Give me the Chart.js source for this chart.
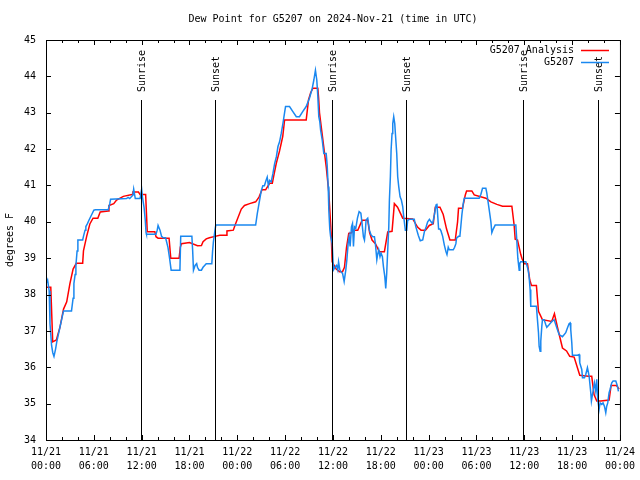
<!DOCTYPE html>
<html>
<head>
<meta charset="utf-8">
<script src="https://cdn.jsdelivr.net/npm/chart.js@4"></script>
<style>
  html, body { margin: 0; padding: 0; background: #fff; }
  #wrap { width: 640px; height: 480px; }
</style>
</head>
<body>
<div id="wrap"><canvas id="dew" width="640" height="480"></canvas></div>
<script>
// hours since 2024-11-21 00:00 UTC
const analysisHours = [0, 0.6, 0.84, 1.3, 1.75, 2.2, 2.6, 3.0, 3.4, 3.8, 4.6, 4.7, 5.1, 5.5, 5.9, 6.5, 6.8, 7.8, 7.9, 8.5, 8.85, 9.7, 10.8, 10.9, 11.6, 11.8, 12.5, 12.7, 13.65, 13.8, 14.06, 15.44, 15.65, 16.7, 16.85, 17.0, 18.0, 19.0, 19.5, 19.7, 20.1, 20.5, 21.2, 21.8, 22.6, 22.7, 23.5, 23.7, 24.5, 24.9, 25.55, 26.3, 26.72, 27.1, 27.55, 28.05, 28.39, 28.6, 28.89, 29.3, 29.51, 29.7, 29.93, 32.64, 32.93, 33.2, 33.47, 34.1, 34.2, 34.31, 34.65, 35.15, 35.48, 35.77, 35.9, 36.4, 36.82, 37.2, 37.44, 37.7, 37.98, 38.3, 38.57, 39.11, 39.65, 40.36, 40.6, 40.9, 41.32, 41.82, 42.45, 42.87, 43.41, 43.55, 43.7, 44.1, 44.75, 46.0, 46.63, 47.05, 47.6, 48.08, 48.58, 48.83, 49.42, 49.83, 50.25, 50.67, 51.34, 51.63, 51.75, 52.25, 52.59, 52.76, 53.42, 53.72, 55.18, 55.81, 56.56, 57.27, 58.44, 58.73, 58.86, 59.15, 59.56, 59.7, 59.98, 60.4, 60.69, 60.9, 61.52, 61.78, 62.27, 63.44, 63.78, 64.16, 64.79, 65.3, 65.7, 66.25, 66.96, 68.04, 68.46, 68.75, 69.09, 69.6, 70.64, 70.89, 71.56, 71.9];
const analysisValues = [38.2, 38.2, 36.7, 36.75, 37.1, 37.6, 37.8, 38.3, 38.7, 38.86, 38.86, 39.2, 39.6, 39.94, 40.1, 40.1, 40.27, 40.3, 40.45, 40.5, 40.6, 40.7, 40.75, 40.82, 40.82, 40.75, 40.75, 39.73, 39.73, 39.59, 39.55, 39.55, 39.0, 39.0, 39.3, 39.4, 39.43, 39.34, 39.35, 39.45, 39.53, 39.56, 39.6, 39.63, 39.63, 39.75, 39.77, 39.9, 40.35, 40.45, 40.5, 40.55, 40.68, 40.88, 40.88, 41.06, 41.06, 41.3, 41.61, 41.95, 42.16, 42.35, 42.8, 42.8, 43.35, 43.55, 43.67, 43.67, 43.4, 43.0, 42.4, 41.52, 40.8, 39.7, 38.9, 38.7, 38.63, 38.63, 38.75, 39.3, 39.68, 39.7, 39.77, 39.77, 40.04, 40.04, 39.7, 39.5, 39.4, 39.18, 39.18, 39.72, 39.74, 40.1, 40.5, 40.4, 40.1, 40.08, 39.85, 39.77, 39.77, 39.9, 39.95, 40.4, 40.4, 40.2, 39.8, 39.5, 39.5, 40.0, 40.37, 40.37, 40.73, 40.85, 40.85, 40.74, 40.65, 40.55, 40.48, 40.43, 40.43, 39.9, 39.52, 39.5, 39.1, 39.0, 38.85, 38.85, 38.4, 38.25, 38.25, 37.54, 37.31, 37.26, 37.47, 37.1, 36.53, 36.45, 36.3, 36.28, 35.78, 35.75, 35.75, 35.25, 35.07, 35.07, 35.1, 35.5, 35.5, 35.4];

const obsHours = [0, 0.2, 0.4, 0.5, 0.7, 0.85, 1.0, 1.2, 1.35, 1.55, 1.75, 2.0, 2.2, 3.2, 3.4, 3.5, 3.65, 3.75, 3.9, 4.0, 4.6, 4.7, 4.9, 5.0, 5.2, 5.4, 5.6, 5.8, 6.0, 6.2, 7.8, 8.0, 8.1, 10.1, 10.3, 10.5, 10.9, 11.0, 11.2, 11.8, 12.0, 12.1, 12.3, 12.45, 12.55, 12.6, 13.8, 13.95, 14.06, 14.3, 14.5, 14.7, 15.0, 15.3, 15.5, 15.7, 16.8, 16.9, 18.3, 18.4, 18.5, 18.7, 18.9, 19.0, 19.2, 19.5, 19.7, 19.9, 20.1, 20.8, 20.9, 21.0, 21.2, 21.3, 26.3, 26.5, 26.72, 27.0, 27.2, 27.4, 27.6, 27.75, 27.9, 28.05, 28.25, 28.47, 28.68, 28.9, 29.1, 29.3, 29.51, 29.72, 29.93, 30.05, 30.55, 30.97, 31.4, 31.8, 32.2, 32.64, 33.05, 33.4, 33.6, 33.8, 33.97, 34.1, 34.22, 34.35, 34.45, 34.65, 34.85, 35.15, 35.27, 35.4, 35.48, 35.6, 35.7, 35.9, 36.06, 36.3, 36.45, 36.6, 36.7, 36.86, 37.0, 37.2, 37.4, 37.61, 37.74, 37.9, 38.03, 38.15, 38.32, 38.45, 38.57, 38.7, 38.86, 39.07, 39.28, 39.5, 39.65, 39.82, 39.95, 40.07, 40.15, 40.36, 40.57, 40.78, 41.0, 41.2, 41.32, 41.5, 41.6, 41.74, 41.9, 42.03, 42.2, 42.33, 42.5, 42.62, 42.74, 42.87, 43.0, 43.08, 43.2, 43.29, 43.41, 43.5, 43.62, 43.75, 43.83, 44.0, 44.12, 44.25, 44.42, 44.58, 44.75, 44.87, 45.08, 45.25, 45.37, 45.58, 46.2, 46.4, 46.7, 46.95, 47.26, 47.47, 47.68, 47.88, 48.1, 48.3, 48.5, 48.72, 48.93, 49.04, 49.13, 49.25, 49.42, 49.55, 49.76, 49.97, 50.17, 50.3, 50.46, 50.59, 51.09, 51.26, 51.42, 51.5, 51.75, 51.92, 52.05, 52.17, 52.34, 52.47, 54.34, 54.55, 54.76, 55.18, 55.3, 55.39, 55.6, 55.81, 55.93, 56.1, 56.35, 58.94, 59.07, 59.19, 59.36, 59.44, 59.56, 60.19, 60.31, 60.48, 60.6, 60.73, 60.81, 61.52, 61.65, 61.78, 61.86, 61.99, 62.07, 62.2, 62.28, 62.49, 62.7, 62.82, 63.11, 63.45, 63.74, 63.95, 64.16, 64.37, 64.79, 65.2, 65.41, 65.62, 65.75, 65.83, 65.96, 66.04, 66.67, 66.88, 66.96, 67.21, 67.3, 67.55, 67.71, 67.92, 68.05, 68.13, 68.34, 68.42, 68.55, 68.67, 68.8, 68.96, 69.09, 69.21, 69.38, 69.51, 69.72, 69.88, 70.05, 70.22, 70.34, 70.47, 70.64, 70.76, 70.97, 71.14, 71.48, 71.69, 71.81];
const obsValues = [38.3, 38.4, 38.1, 37.2, 36.6, 36.4, 36.3, 36.5, 36.7, 36.9, 37.1, 37.35, 37.55, 37.55, 37.9, 38.3, 38.55, 38.8, 39.2, 39.5, 39.5, 39.6, 39.77, 39.87, 39.95, 40.05, 40.14, 40.23, 40.32, 40.33, 40.33, 40.5, 40.62, 40.64, 40.67, 40.64, 40.73, 40.9, 40.64, 40.64, 40.9, 40.68, 40.4, 40.05, 39.7, 39.66, 39.66, 39.77, 39.9, 39.77, 39.6, 39.56, 39.56, 39.3, 39.0, 38.67, 38.67, 39.6, 39.6, 39.2, 38.67, 38.8, 38.85, 38.75, 38.67, 38.67, 38.75, 38.8, 38.85, 38.85, 39.2, 39.45, 39.77, 39.91, 39.91, 40.22, 40.5, 40.85, 40.99, 40.99, 41.14, 41.23, 40.99, 41.14, 41.1, 41.33, 41.6, 41.79, 42.07, 42.2, 42.43, 42.7, 43.0, 43.17, 43.17, 43.03, 42.89, 42.89, 43.03, 43.17, 43.4, 43.67, 43.9, 44.17, 43.9, 43.45, 42.89, 42.75, 42.52, 42.25, 41.88, 41.88, 41.56, 40.97, 40.32, 39.8, 39.6, 39.4, 38.68, 38.77, 38.8, 38.68, 38.9, 38.68, 38.63, 38.58, 38.36, 38.68, 38.95, 39.4, 39.59, 39.32, 39.86, 39.95, 39.32, 39.86, 39.82, 40.1, 40.28, 40.24, 39.95, 39.59, 39.5, 39.77, 40.05, 40.1, 39.77, 39.64, 39.59, 39.59, 39.4, 38.96, 39.1, 39.23, 39.04, 39.14, 39.04, 38.77, 38.5, 38.17, 38.58, 39.23, 39.86, 40.6, 41.24, 41.97, 42.43, 42.7, 42.89, 42.7, 42.43, 41.88, 41.24, 40.97, 40.69, 40.6, 40.42, 40.15, 39.77, 39.77, 40.04, 40.07, 40.07, 39.86, 39.63, 39.48, 39.5, 39.73, 39.86, 40.0, 40.07, 40.0, 39.95, 40.19, 40.46, 40.5, 40.2, 39.8, 39.8, 39.75, 39.6, 39.36, 39.18, 39.1, 39.3, 39.23, 39.23, 39.3, 39.4, 39.55, 39.6, 39.6, 39.9, 40.19, 40.5, 40.65, 40.65, 40.75, 40.92, 40.92, 40.79, 40.65, 40.33, 40.0, 39.7, 39.8, 39.91, 39.91, 39.45, 39.0, 38.67, 38.86, 38.9, 38.9, 38.82, 38.68, 38.5, 38.14, 37.68, 37.68, 37.31, 36.95, 36.58, 36.44, 36.72, 37.13, 37.31, 37.31, 37.17, 37.1, 37.17, 37.26, 37.31, 37.17, 37.03, 36.9, 36.84, 36.95, 37.08, 37.2, 37.22, 37.03, 36.67, 36.33, 36.33, 36.35, 36.12, 35.94, 35.71, 35.71, 35.8, 35.99, 35.85, 35.76, 35.3, 35.07, 35.25, 35.39, 35.57, 35.35, 35.67, 35.12, 34.84, 35.02, 34.98, 35.02, 34.93, 34.75, 34.93, 35.02, 35.3, 35.39, 35.57, 35.62, 35.62, 35.48, 35.34];

const xTickLabels = [['11/21', '00:00'], ['11/21', '06:00'], ['11/21', '12:00'], ['11/21', '18:00'], ['11/22', '00:00'], ['11/22', '06:00'], ['11/22', '12:00'], ['11/22', '18:00'], ['11/23', '00:00'], ['11/23', '06:00'], ['11/23', '12:00'], ['11/23', '18:00'], ['11/24', '00:00']];
const yTicks = [34, 35, 36, 37, 38, 39, 40, 41, 42, 43, 44, 45];

const sunHours = [11.98, 21.25, 35.98, 45.25, 59.9, 69.29];
const sunLabels = ['Sunrise', 'Sunset', 'Sunrise', 'Sunset', 'Sunrise', 'Sunset'];

const seriesNames = ['G5207 Analysis', 'G5207'];
const seriesColors = ['#ff0000', '#1a88f0'];

const mono = '"DejaVu Sans Mono", "Liberation Mono", monospace';

function toPoints(xs, ys) {
    return xs.map((h, i) => ({ x: h, y: ys[i] }));
}

// frame, inward ticks, sun lines, legend and titles (gnuplot look)
const gnuplotDecor = {
    id: 'gnuplotDecor',
    afterDatasetsDraw(chart) {
        const { ctx, chartArea: a, scales: { x, y } } = chart;
        ctx.save();
        ctx.strokeStyle = '#000';
        ctx.lineWidth = 1;

        // sunrise / sunset markers
        const lineTop = a.bottom - 0.85 * (a.bottom - a.top);
        const labelY = a.bottom - 0.87 * (a.bottom - a.top);
        ctx.font = '10px ' + mono;
        ctx.fillStyle = '#000';
        sunHours.forEach((h, i) => {
            const px = Math.floor(x.getPixelForValue(h)) + 0.5;
            ctx.beginPath();
            ctx.moveTo(px, lineTop);
            ctx.lineTo(px, a.bottom);
            ctx.stroke();
            ctx.save();
            ctx.translate(px + 1, labelY);
            ctx.rotate(-Math.PI / 2);
            ctx.textAlign = 'left';
            ctx.textBaseline = 'middle';
            ctx.fillText(sunLabels[i], 0, 0);
            ctx.restore();
        });

        // frame
        ctx.strokeRect(a.left + 0.5, a.top + 0.5, a.right - a.left, a.bottom - a.top);

        // ticks pointing inward
        ctx.beginPath();
        for (let h = 0; h <= 72; h += 2) {
            const px = Math.round(x.getPixelForValue(h)) + 0.5;
            const len = h % 6 === 0 ? 5 : 3;
            ctx.moveTo(px, a.bottom);
            ctx.lineTo(px, a.bottom - len);
            ctx.moveTo(px, a.top);
            ctx.lineTo(px, a.top + len);
        }
        yTicks.forEach(v => {
            const py = Math.round(y.getPixelForValue(v)) + 0.5;
            ctx.moveTo(a.left, py);
            ctx.lineTo(a.left + 5, py);
            ctx.moveTo(a.right, py);
            ctx.lineTo(a.right - 5, py);
        });
        ctx.stroke();

        // legend
        ctx.textAlign = 'right';
        ctx.textBaseline = 'middle';
        seriesNames.forEach((name, i) => {
            const ly = 50 + i * 12;
            ctx.fillStyle = '#000';
            ctx.fillText(name, 574, ly);
            ctx.strokeStyle = seriesColors[i];
            ctx.lineWidth = 1.5;
            ctx.beginPath();
            ctx.moveTo(581, ly + 0.5);
            ctx.lineTo(609, ly + 0.5);
            ctx.stroke();
        });

        // title
        ctx.fillStyle = '#000';
        ctx.textAlign = 'center';
        ctx.fillText('Dew Point for G5207 on 2024-Nov-21 (time in UTC)', (a.left + a.right) / 2, 19);

        // y axis label
        ctx.save();
        ctx.translate(10, (a.top + a.bottom) / 2);
        ctx.rotate(-Math.PI / 2);
        ctx.textAlign = 'center';
        ctx.fillText('degrees F', 0, 0);
        ctx.restore();

        ctx.restore();
    }
};

new Chart(document.getElementById('dew'), {
    type: 'line',
    data: {
        datasets: [
            {
                label: seriesNames[0],
                data: toPoints(analysisHours, analysisValues),
                borderColor: seriesColors[0],
                borderWidth: 1.5,
                pointRadius: 0,
                tension: 0,
                order: 2
            },
            {
                label: seriesNames[1],
                data: toPoints(obsHours, obsValues),
                borderColor: seriesColors[1],
                borderWidth: 1.5,
                pointRadius: 0,
                tension: 0,
                order: 1
            }
        ]
    },
    options: {
        responsive: false,
        animation: false,
        layout: { padding: { top: 40, right: 19, left: 0, bottom: 0 } },
        plugins: {
            legend: { display: false },
            title: { display: false },
            tooltip: { enabled: false }
        },
        scales: {
            x: {
                type: 'linear',
                min: 0,
                max: 72,
                afterFit: s => { s.height = 40; },
                grid: { display: false, drawTicks: false },
                border: { display: false },
                ticks: {
                    stepSize: 6,
                    autoSkip: false,
                    maxRotation: 0,
                    padding: 5,
                    color: '#000',
                    font: { family: mono, size: 10, lineHeight: 1.4 },
                    callback: v => xTickLabels[Math.round(v / 6)]
                }
            },
            y: {
                type: 'linear',
                min: yTicks[0],
                max: yTicks[yTicks.length - 1],
                afterFit: s => { s.width = 46; },
                grid: { display: false, drawTicks: false },
                border: { display: false },
                ticks: {
                    stepSize: 1,
                    padding: 10,
                    color: '#000',
                    font: { family: mono, size: 10 }
                }
            }
        }
    },
    plugins: [gnuplotDecor]
});
</script>
</body>
</html>
